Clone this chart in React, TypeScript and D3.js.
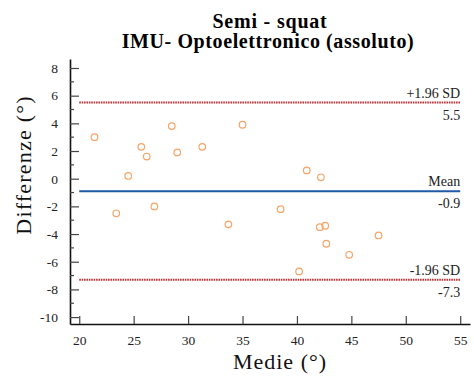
import { useEffect, useRef } from "react";
import * as d3 from "d3";

// medie e differenze
const means = [21.4, 23.4, 24.5, 25.7, 26.2, 26.9, 28.5, 29.0, 31.3, 33.7, 35.0, 38.5, 40.9, 42.2, 42.1, 42.6, 42.7, 40.2, 44.8, 47.5];
const diffs = [3.0, -2.5, 0.2, 2.3, 1.6, -2.0, 3.8, 1.9, 2.3, -3.3, 3.9, -2.2, 0.6, 0.1, -3.5, -3.4, -4.7, -6.7, -5.5, -4.1];

const xTicks = [20, 25, 30, 35, 40, 45, 50, 55];
const yTicks = [8, 6, 4, 2, 0, -2, -4, -6, -8, -10];
const yMinor = [7, 5, 3, 1, -1, -3, -5, -7, -9];

const meanDiff = -0.9;
const upperLoA = 5.5;
const lowerLoA = -7.3;

const serif = "Liberation Serif";

export default function App() {
  const ref = useRef<HTMLDivElement>(null);

  useEffect(() => {
    const container = d3.select(ref.current);
    container.selectAll("*").remove();

    const width = 474, height = 376;
    const svg = container.append("svg")
      .attr("width", width)
      .attr("height", height)
      .attr("font-family", serif)
      .style("display", "block");

    const x = d3.scaleLinear().domain([19.15, 55.9]).range([70, 470]);
    const y = d3.scaleLinear().domain([-10.5, 8.65]).range([324, 59]);

    // titolo
    svg.append("text")
      .attr("x", 270).attr("y", 28)
      .attr("text-anchor", "middle")
      .attr("font-family", serif)
      .attr("font-weight", "bold")
      .attr("font-size", 20)
      .attr("letter-spacing", 0.8)
      .text("Semi - squat");
    svg.append("text")
      .attr("x", 268).attr("y", 48)
      .attr("text-anchor", "middle")
      .attr("font-family", serif)
      .attr("font-weight", "bold")
      .attr("font-size", 20)
      .attr("letter-spacing", 0.6)
      .text("IMU- Optoelettronico (assoluto)");

    // linee di riferimento
    const lines = [
      { v: upperLoA, label: "+1.96 SD", color: "#b8353a", dash: "1.6,0.8" },
      { v: meanDiff, label: "Mean", color: "#1f5aa6", dash: null },
      { v: lowerLoA, label: "-1.96 SD", color: "#b8353a", dash: "1.6,0.8" },
    ];
    const g = svg.append("g");
    lines.forEach(l => {
      g.append("line")
        .attr("x1", x(20)).attr("x2", x(55))
        .attr("y1", y(l.v)).attr("y2", y(l.v))
        .attr("stroke", l.color)
        .attr("stroke-width", 2)
        .attr("stroke-dasharray", l.dash);
      g.append("text")
        .attr("x", x(55)).attr("y", y(l.v) - 5)
        .attr("text-anchor", "end")
        .attr("font-family", serif)
        .attr("font-size", 14)
        .attr("fill", "#222")
        .text(l.label);
      g.append("text")
        .attr("x", x(55)).attr("y", y(l.v) + 17)
        .attr("text-anchor", "end")
        .attr("font-family", serif)
        .attr("font-size", 14)
        .attr("fill", "#222")
        .text(l.v.toFixed(1));
    });

    // punti
    svg.append("g")
      .selectAll("circle")
      .data(means)
      .join("circle")
        .attr("cx", d => x(d))
        .attr("cy", (d, i) => y(diffs[i]))
        .attr("r", 3.3)
        .attr("fill", "none")
        .attr("stroke", "#f6a468")
        .attr("stroke-width", 1.2);

    // asse x
    const xAxis = svg.append("g")
      .attr("transform", `translate(0, ${y(-10.5)})`)
      .call(d3.axisBottom(x).tickValues(xTicks).tickSize(-8).tickPadding(11).tickSizeOuter(0)
        .tickFormat(d => String(d)));
    xAxis.attr("font-family", serif);
    xAxis.select(".domain").attr("stroke", "#111").attr("stroke-width", 1.6);
    xAxis.selectAll(".tick line").attr("stroke", "#444").attr("stroke-width", 1.2);
    xAxis.selectAll("text")
      .attr("font-size", 13.5)
      .attr("fill", "#222");

    // asse y
    const yAxis = svg.append("g")
      .attr("transform", `translate(${x(19.15)}, 0)`)
      .call(d3.axisLeft(y).tickValues(yTicks).tickSize(-9).tickPadding(12).tickSizeOuter(0)
        .tickFormat(d => String(d)));
    yAxis.attr("font-family", serif);
    yAxis.select(".domain").attr("stroke", "#111").attr("stroke-width", 1.6);
    yAxis.selectAll(".tick line").attr("stroke", "#444").attr("stroke-width", 1.2);
    yAxis.selectAll("text")
      .attr("font-size", 13.5)
      .attr("fill", "#222");
    yAxis.append("g")
      .selectAll("line")
      .data(yMinor)
      .join("line")
        .attr("x1", 0).attr("x2", 4)
        .attr("y1", d => y(d)).attr("y2", d => y(d))
        .attr("stroke", "#444")
        .attr("stroke-width", 1.2);

    // titoli assi
    svg.append("text")
      .attr("x", 280).attr("y", 369)
      .attr("text-anchor", "middle")
      .attr("font-family", serif)
      .attr("font-size", 22)
      .attr("letter-spacing", 1)
      .attr("fill", "#111")
      .text("Medie (°)");
    svg.append("text")
      .attr("transform", `translate(31, ${165}) rotate(-90)`)
      .attr("text-anchor", "middle")
      .attr("font-family", serif)
      .attr("font-size", 22)
      .attr("letter-spacing", 1.2)
      .attr("fill", "#111")
      .text("Differenze (°)");
  }, []);

  return <div ref={ref} style={{ position: "absolute", left: 0, top: 0 }}></div>;
}
